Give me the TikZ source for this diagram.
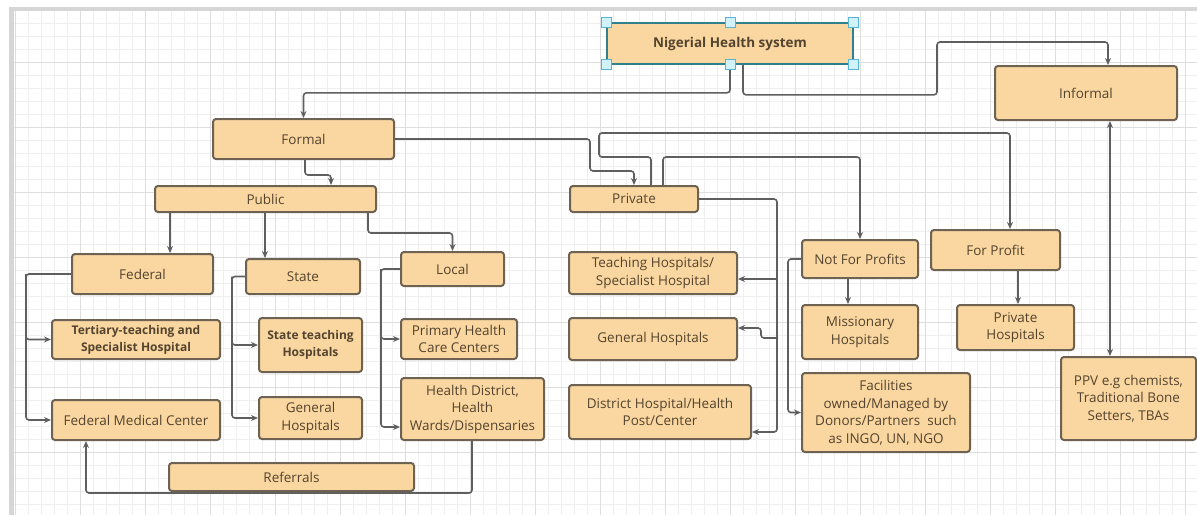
\documentclass[tikz,border=0pt]{standalone}
\usepackage{fontspec}
\setmainfont{Open Sans}
\usetikzlibrary{arrows.meta,backgrounds}
\definecolor{boxfill}{HTML}{FAD7A0}
\definecolor{boxdraw}{HTML}{6E6252}
\definecolor{txt}{HTML}{54442F}
\definecolor{wire}{HTML}{5F5F5F}
\definecolor{gridminor}{HTML}{EFEFEF}
\definecolor{gridmajor}{HTML}{DEDEDE}
\definecolor{gridborder}{HTML}{D6D6D6}
\definecolor{handlefill}{HTML}{D2F2FA}
\definecolor{handledraw}{HTML}{58B4D6}
\definecolor{selborder}{HTML}{2F7F8C}
\begin{document}
\begin{tikzpicture}[x=1pt,y=-1pt,
 box/.style={draw=boxdraw, line width=2pt, fill=boxfill, rounded corners=3pt, text=txt, align=center, font=\fontsize{13.5}{17.5}\selectfont, inner sep=1pt},
 boldbox/.style={box, font=\fontsize{12}{17}\selectfont\bfseries},
 conn/.style={draw=wire, line width=1.6pt, -{Stealth[length=7pt,width=6pt]}, rounded corners=3pt},
 handle/.style={draw=handledraw, fill=handlefill, line width=1pt, minimum size=10pt, inner sep=0pt},
]
\useasboundingbox (0,0) rectangle (1197,515);
% nodes
\node[box, draw=selborder, line width=1.6pt, font=\fontsize{13.5}{17}\selectfont\bfseries, minimum width=246pt, minimum height=41pt] (top) at (730,43.5) {Nigerial Health system};
\node[box, minimum width=182pt, minimum height=54pt] (informal) at (1086,93) {Informal};
\node[box, minimum width=181pt, minimum height=40pt] (formal) at (303.5,139) {Formal};
\node[box, minimum width=221pt, minimum height=26pt] (public) at (265.5,199) {Public};
\node[box, minimum width=128pt, minimum height=26pt] (private) at (634,199) {Private};
\node[box, minimum width=141pt, minimum height=40pt] (federal) at (142.5,274) {Federal};
\node[box, minimum width=114pt, minimum height=35pt] (state) at (303,276.5) {State};
\node[box, minimum width=103pt, minimum height=34pt] (local) at (452.5,269) {Local};
\node[boldbox, minimum width=168pt, minimum height=39pt] (tertiary) at (136,339.5) {Tertiary-teaching and\\Specialist Hospital};
\node[boldbox, minimum width=103pt, minimum height=54pt] (stateteach) at (310.5,345) {State teaching\\Hospitals};
\node[box, minimum width=103pt, minimum height=42pt] (stategen) at (310.5,418) {General\\Hospitals};
\node[box, minimum width=168pt, minimum height=40pt] (fmc) at (136,420) {Federal Medical Center};
\node[box, minimum width=116pt, minimum height=40pt] (phc) at (459,339) {Primary Health\\Care Centers};
\node[box, minimum width=143pt, minimum height=62pt] (hd) at (472.5,409) {Health District,\\Health\\Wards/Dispensaries};
\node[box, minimum width=168pt, minimum height=42pt] (teach) at (653,273) {Teaching Hospitals/\\Specialist Hospital};
\node[box, minimum width=168pt, minimum height=42pt] (pgen) at (653,339) {General Hospitals};
\node[box, minimum width=182pt, minimum height=54pt] (district) at (660,412) {District Hospital/Health\\Post/Center};
\node[box, minimum width=116pt, minimum height=38pt] (nfp) at (860,259) {Not For Profits};
\node[box, minimum width=129pt, minimum height=40pt] (fp) at (995.5,250) {For Profit};
\node[box, minimum width=116pt, minimum height=54pt] (miss) at (860,332) {Missionary\\Hospitals};
\node[box, minimum width=117pt, minimum height=45pt] (phosp) at (1015.5,327.5) {Private\\Hospitals};
\node[box, minimum width=168pt, minimum height=79pt] (fac) at (886,412.5) {Facilities\\owned/Managed by\\Donors/Partners~ such\\as INGO, UN, NGO};
\node[box, minimum width=135pt, minimum height=83pt] (ppv) at (1128.5,398.5) {PPV e.g chemists,\\Traditional Bone\\Setters, TBAs};
\node[box, minimum width=245pt, minimum height=28pt] (referrals) at (291.5,477) {Referrals};
% selection handles
\foreach \a/\n in {north west/h1,north/h2,north east/h3,south west/h4,south/h5,south east/h6}
  \node[handle] (\n) at (top.\a) {};
% helper coordinates
\coordinate (c2a) at (937,42);
\coordinate (c4a) at (590,171);
\coordinate (p5) at ([xshift=-95.5pt]public.south);
\coordinate (p6) at ([xshift=-0.5pt]public.south);
\coordinate (p8) at ([xshift=-45pt]federal.west);
\coordinate (p9) at ([xshift=-13pt]state.west);
\coordinate (p10) at ([xshift=-19pt]local.west);
\coordinate (pv) at (777,432);
\coordinate (pt) at ([yshift=-6pt]teach.east);
\coordinate (pg) at ([yshift=11pt]pgen.east);
\coordinate (c13a) at (599,157);
\coordinate (c13b) at (1010,133);
\coordinate (p15) at ([xshift=-12pt]nfp.south);
\coordinate (p17) at ([xshift=22.5pt]fp.south);
\coordinate (p18) at ([xshift=24pt]informal.south);
\begin{pgfonlayer}{background}
  \fill[white] (0,0) rectangle (1197,515);
  \foreach \x in {15,28,...,1197} \draw[gridminor, line width=0.6pt] (\x,10) -- (\x,515);
  \foreach \y in {10,23,...,515} \draw[gridminor, line width=0.6pt] (12,\y) -- (1197,\y);
  \foreach \x in {15,80,...,1197} \draw[gridmajor, line width=0.8pt] (\x,10) -- (\x,515);
  \foreach \y in {62,127,...,515} \draw[gridmajor, line width=0.8pt] (12,\y) -- (1197,\y);
  \fill[gridborder] (9,7) rectangle (1197,11);
  \fill[gridborder] (9,7) rectangle (14,515);
  % connectors
  \draw[conn] (top.south) -- ++(0,28) -| (formal.north);
  \draw[conn] ([xshift=13pt]top.south) -- ++(0,30) -| (c2a) -| ([xshift=22pt]informal.north);
  \draw[conn] ([xshift=1.5pt]formal.south) -- ++(0,15) -| ([xshift=65.5pt]public.north);
  \draw[conn] (formal.east) -| (c4a) -| (private.north);
  \draw[conn] (p5) -- (p5 |- federal.north);
  \draw[conn] (p6) -- (p6 |- state.north);
  \draw[conn] ([xshift=102.5pt]public.south) -- ++(0,20) -| (local.north);
  \draw[conn] (federal.west) -- (p8) |- (fmc.west);
  \draw[conn] (p8) |- (tertiary.west);
  \draw[conn] (state.west) -- (p9) |- (stategen.west);
  \draw[conn] (p9) |- (stateteach.west);
  \draw[conn] (local.west) -- (p10) |- ([yshift=-18pt]hd.west);
  \draw[conn] (p10) |- (phc.west);
  \draw[conn] ([xshift=-0.5pt]hd.south) -- ++(0,52) -| ([xshift=-50pt]fmc.south);
  \draw[conn] (private.east) -| (pv) -- ([yshift=-20pt]district.east);
  \draw[conn] (pt -| pv) -- (pt);
  \draw[conn] ([yshift=1pt]pgen.east) ++(40,0) -- ++(-17,0) |- (pg);
  \draw[conn] ([xshift=17pt]private.north) |- (c13a) |- (c13b) -- ([xshift=14.5pt]fp.north);
  \draw[conn] ([xshift=29pt]private.north) -- ++(0,-28) -| (nfp.north);
  \draw[conn] (p15) -- (p15 |- miss.north);
  \draw[conn] (nfp.west) -- ++(-13,0) |- (fac.west);
  \draw[conn] (p17) -- (p17 |- phosp.north);
  \draw[conn, {Stealth[length=7pt,width=6pt]}-{Stealth[length=7pt,width=6pt]}] (p18) -- (p18 |- ppv.north);
\end{pgfonlayer}
\end{tikzpicture}
\end{document}
